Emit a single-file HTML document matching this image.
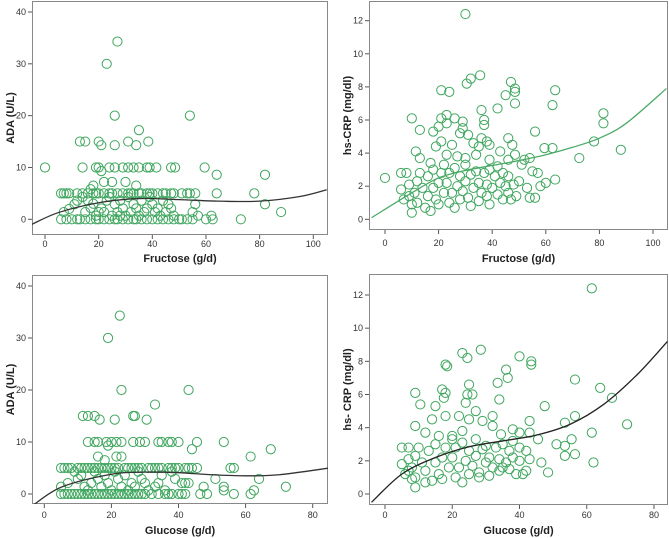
<!DOCTYPE html>
<html><head><meta charset="utf-8"><style>
html,body{margin:0;padding:0;background:#fff}
svg{display:block;font-family:"Liberation Sans",Arial,sans-serif}
</style></head><body>
<svg id="chart" width="669" height="538" viewBox="0 0 669 538"></svg>
<script>
// ---- Panel A: Fructose vs ADA ----
const aX=[27,23,26,54,35,13,15,20,31,38.5,21,26,34,0,14,19,20,24,26,29,31,33,35,38,39,41.5,47,48.5,59.5,21,64,82,78,64,82,88,73,30,22,25,18,34,17,
6,7,8,9,12,14,16,18,19,20,22,24,25,27,29,31,32,33,35,36,38,39,40,42,44,45,47,48,51,53,54,56,
6,8,10,12,13,15,17,19,20,22,24,26,27,29,31,33,34,36,38,40,42,44,46,48,50,51,53,55,60,62.5,
7,9,11,12,14,15,17,18,19,21,22,23,24,25,26,27,28,29,30,31,32,33,34,35,36,37,38,39,40,41,42,43,44,45,46,47,48,55,56,57,62,16,20,28];
const aY=[34.3,30,20,20,17.2,15,15,15,15,15,14.3,14.3,14.3,10,10,10,10,10,10,10,10,10,10,10,10,10,10,10,10,9.3,8.6,8.6,5,5,2.9,1.4,0,7.2,7.2,7.2,6.5,6.5,5.8,
5,5,5,5,5,5,5,5,5,5,5,5,5,5,5,5,5,5,5,5,5,5,5,5,5,5,5,5,5,5,5,5,
0,0,0,0,0,0,0,0,0,0,0,0,0,0,0,0,0,0,0,0,0,0,0,0,0,0,0,0,0,0,
1.4,2,2.9,3.6,4.3,1.4,2.2,3,0.7,2.1,1.4,3.6,4.3,0.7,2.9,1.4,3.6,2.1,0.7,4.3,1.4,2.9,2.1,0.7,3.6,1.4,2.1,4.3,2.9,1.4,2.1,0.7,3.6,1.4,2.9,2.1,0.7,1.4,2.9,0.7,0.7,3.6,1.4,0.7];
const aFitX=[-5,5,20,35,50,65,80,95,105];
const aFitY=[-1,1.3,3.2,4,3.8,3.5,3.5,4.4,5.7];
// ---- Panel B: Fructose vs hs-CRP ----
const bX=[30,21,24,30.5,32,35.5,47,45,48.5,48.5,63.5,36,42,48.5,62.5,81.5,81.5,10,21,23,26,29,37,37,20,23,56,78,72.5,88,59.5,62.5,63.5,60,58,0,13,18,29,31,28,36,46,11.5,19,21,25,33,35,38,39,47.5,43,13,17,23,27,30,34,39,46,48.5,52,54,
6,6,7,8,9,9,10,10,11,12,12,13,14,15,16,16,17,18,18,19,20,20,21,22,22,23,24,24,25,26,26,27,28,28,29,30,30,31,32,32,33,34,35,35,36,37,38,38,39,39,40,41,42,42,43,44,44,45,46,46,47,48,49,50,51,53,54,55,56,57];
const bY=[12.4,7.8,7.7,8.2,8.5,8.7,8.3,7.5,7.9,7.7,7.8,6.6,6.7,7,6.9,6.4,5.8,6.1,6.1,6.3,6.1,5.9,6,5.7,5.6,5.8,5.3,4.7,3.7,4.2,4.3,4.3,2.4,2.2,2,2.5,5.4,5.3,5.5,5.1,5.2,4.9,4.9,4.1,4.4,4.7,4.5,4.6,4.4,4.7,4.5,4.5,4.1,3.7,3.4,3.9,3.8,3.7,3.9,3.6,3.6,3.9,3.6,3.7,
2.8,1.8,1.2,2.8,2.1,1.4,0.9,0.4,1.6,2.3,1,2.8,1.9,0.7,1.4,2.6,0.5,1.9,3,1.2,2.2,0.9,2.8,1.6,3.3,2.2,1,2.8,1.6,0.7,3.1,2,1.2,2.6,1.7,2.3,3.3,1.3,0.8,2.7,1.9,2.9,1.1,2.2,1.6,2.8,1.4,2.1,0.9,3,1.9,2.6,1.5,3.2,2.2,1.2,2.8,2,1.6,2.6,1.2,2.1,1.4,2.3,3.3,1.9,1.3,2.9,1.3,2.8];
const bFitX=[-5,10,20,30,40,50,60,70,80,90,105];
const bFitY=[0.1,1.6,2.5,2.95,3.25,3.55,3.9,4.35,4.9,5.8,7.9];
// ---- Panel C: Glucose vs ADA ----
const cX=[22.5,19,23,43,33,11.5,13,15,26.5,27,16.5,21,30.5,13,15,16,18.5,20,21.5,23,26.5,28.5,30,34,35,37,38,40,45.5,53.5,19,44,67.5,61.5,21.5,23,16,18,55.5,56.5,64,51,72,53.5,47.5,62.5,61.5,56.5,46.5,48.5,53.5,
5,6,7,8,10,11,12,13,14,15,16,17,18,19,20,21,22,24,25,26,27,28,29,31,32,33,34,35,37,38,39,40,42,43,44,45.5,
5,6,7,8,9,10,11,12,13,14,15,16,17,18,19,20,21,22,23,24,25,26,27,28,29,30,32,34,36,37,38,40,41,42,
5,7,9,10,11,12,13,14,15,16,17,18,19,20,21,22,23,24,25,26,27,28,29,30,31,33,34,35,36,38,39,41,42,43];
const cY=[34.3,30,20,20,17.2,15,15,15,15,15,14.3,14.3,14.3,10,10,10,10,10,10,10,10,10,10,10,10,10,10,10,10,10,9.3,8.6,8.6,7.2,7.2,7.2,7.2,6.5,5,5,2.9,2.9,1.4,1.4,1.4,0.7,0,0,0,0,0.7,
5,5,5,5,5,5,5,5,5,5,5,5,5,5,5,5,5,5,5,5,5,5,5,5,5,5,5,5,5,5,5,5,5,5,5,5,
0,0,0,0,0,0,0,0,0,0,0,0,0,0,0,0,0,0,0,0,0,0,0,0,0,0,0,0,0,0,0,0,0,0,
1.4,2.1,4.3,2.9,3.6,1.4,0.7,2.1,4.3,2.9,1.4,3.6,2.1,0.7,4.3,2.9,1.4,3.6,0.7,2.1,1.4,4.3,2.9,2.1,0.7,1.4,2.1,3.6,0.7,4.3,2.9,2.1,2.1,2.1];
const cFitX=[-4,5,20,30,40,50,60,70,85];
const cFitY=[-2.5,1.3,3.8,4.2,4.1,3.7,3.5,3.7,5];
// ---- Panel D: Glucose vs hs-CRP ----
const dX=[61.5,18,18.5,23,24.5,28.5,40,43.5,43.5,36,36.5,33.5,56.5,64,67.5,9,17,17.5,18,25,26,24.5,34,47.5,10.5,15,24,27,9,14,18,22,25,32,29,43,56.5,53.5,72,61.5,55.5,51,53.5,53.5,56.5,62,46.5,48.5,40,43,45.5,38,34.5,32,12,16,20,23,
5,5,6,7,7,7,8,8,9,9,9,10,11,12,12,13,14,15,15,16,17,17,18,19,20,20,21,21,22,23,23,24,25,25,26,27,27,28,28,29,30,30,31,31,32,33,34,34,35,35,36,37,37,38,38,39,40,40,41,42,42,43];
const dY=[12.4,7.8,7.7,8.5,8.2,8.7,8.3,8,7.8,7.5,7,6.7,6.9,6.4,5.8,6.1,6.3,5.8,6.1,6.6,6,6,5.7,5.3,5.4,5.3,5.5,5,4.1,4.5,4.7,4.7,4.5,4.7,4.4,4.4,4.7,4.3,4.2,3.7,3.3,3,2.9,2.3,2.4,1.9,1.9,1.3,3.7,3.7,3.3,3.9,3.6,4.1,3.7,3.5,3.5,3.8,
2.8,1.8,1.2,2.8,2.1,1.4,0.9,1.6,0.4,2.3,1,2.8,1.9,0.7,1.4,2.6,0.8,1.9,3,1.2,2.2,0.9,2.8,1.6,3.3,2.2,1,2.8,1.6,0.7,3.1,2,1.2,2.6,1.7,2.3,3.3,1.3,1,2.7,1.9,2.9,1.1,2.2,1.6,2.8,1.4,2.1,1.6,3,1.9,2.6,1.5,3.2,2.2,1.2,2.8,2,1.2,2.6,1.4,2.1];
const dFitX=[-4,5,15,25,35,45,55,65,75,84];
const dFitY=[-0.5,1.2,2.2,2.85,3.2,3.55,4.2,5.4,7.2,9.2];

const xTicksA=[0,20,40,60,80,100], xTicksC=[0,20,40,60,80];
const yTicksADA=[0,10,20,30,40], yTicksCRP=[0,2,4,6,8,10,12];

const NS="http://www.w3.org/2000/svg";
const svg=document.getElementById('chart');
function mk(tag,attrs,parent){const e=document.createElementNS(NS,tag);for(const k in attrs)e.setAttribute(k,attrs[k]);(parent||svg).appendChild(e);return e;}

const panels=[
 {id:'fructose-ada',xs:aX,ys:aY,fx:aFitX,fy:aFitY,fitColor:'#333',box:[32,1,328,235],xa:[0,45,100,313.3],ya:[0,219.3,40,12],xt:xTicksA,yt:yTicksADA,xl:'Fructose (g/d)',yl:'ADA (U/L)',xtY:247,xlY:262},
 {id:'fructose-crp',xs:bX,ys:bY,fx:bFitX,fy:bFitY,fitColor:'#4aaa66',box:[369,1,668,230],xa:[0,385,100,653],ya:[0,219.3,12,20.7],xt:xTicksA,yt:yTicksCRP,xl:'Fructose (g/d)',yl:'hs-CRP (mg/dl)',xtY:246,xlY:262},
 {id:'glucose-ada',xs:cX,ys:cY,fx:cFitX,fy:cFitY,fitColor:'#333',box:[32,275,328,504],xa:[0,44.3,80,312.7],ya:[0,494,40,286],xt:xTicksC,yt:yTicksADA,xl:'Glucose (g/d)',yl:'ADA (U/L)',xtY:518,xlY:534},
 {id:'glucose-crp',xs:dX,ys:dY,fx:dFitX,fy:dFitY,fitColor:'#222',box:[369,274,668,505],xa:[0,385,80,654],ya:[0,494,12,295],xt:xTicksC,yt:yTicksCRP,xl:'Glucose (g/d)',yl:'hs- CRP (mg/dl)',xtY:518,xlY:534}
];

panels.forEach(p=>{
 const g=mk('g',{});
 
 
 const sx=v=>p.xa[1]+(v-p.xa[0])*(p.xa[3]-p.xa[1])/(p.xa[2]-p.xa[0]);
 const sy=v=>p.ya[1]+(v-p.ya[0])*(p.ya[3]-p.ya[1])/(p.ya[2]-p.ya[0]);
 const [l,t,r,b]=p.box;
 const clipId='clip-'+p.id;
 const cp=mk('clipPath',{id:clipId},g);mk('rect',{x:l,y:t,width:r-l,height:b-t},cp);
 const frame=mk('rect',{x:l+0.5,y:t+0.5,width:r-l-1,height:b-t-1,fill:'#fff',stroke:'#888','stroke-width':1},g);
 
 
 p.yt.forEach(v=>{
  const y=sy(v);
  mk('line',{x1:l-4,x2:l,y1:y,y2:y,stroke:'#555'},g);
  const tx=mk('text',{x:l-6,y:y+3,'text-anchor':'end','font-size':9,fill:'#333'},g);tx.textContent=v;
  
  
 });
 p.xt.forEach(v=>{
  const x=sx(v);
  mk('line',{x1:x,x2:x,y1:b,y2:b+4,stroke:'#555'},g);
  const tx=mk('text',{x:x,y:p.xtY,'text-anchor':'middle','font-size':9,fill:'#333'},g);tx.textContent=v;
  
  
 });
 const xt=mk('text',{x:(l+r)/2,y:p.xlY,'text-anchor':'middle','font-size':11,'font-weight':'bold',fill:'#222'},g);xt.textContent=p.xl;
 
 
 const cy=(t+b)/2-(p.id.indexOf('glucose')===0?5:0);
 const yt=mk('text',{x:0,y:0,'text-anchor':'middle','font-size':11,'font-weight':'bold',fill:'#222',transform:`translate(${l-18},${(t+b)/2}) rotate(-90)`},g);yt.textContent=p.yl;
 
 
 const pg=mk('g',{'clip-path':`url(#${clipId})`},g);
 p.xs.forEach((xv,i)=>{
  const c=mk('circle',{cx:sx(xv),cy:sy(p.ys[i]),r:4.6,fill:'none',stroke:'#3fa65e','stroke-width':1},pg);
  
  
 });
 // smooth fit line through sample points (Catmull-Rom)
 const pts=p.fx.map((xv,i)=>[sx(xv),sy(p.fy[i])]);
 let d=`M${pts[0][0]},${pts[0][1]}`;
 for(let i=0;i<pts.length-1;i++){
  const p0=pts[Math.max(0,i-1)],p1=pts[i],p2=pts[i+1],p3=pts[Math.min(pts.length-1,i+2)];
  d+=` C${p1[0]+(p2[0]-p0[0])/6},${p1[1]+(p2[1]-p0[1])/6} ${p2[0]-(p3[0]-p1[0])/6},${p2[1]-(p3[1]-p1[1])/6} ${p2[0]},${p2[1]}`;
 }
 const fit=mk('path',{d:d,fill:'none',stroke:p.fitColor,'stroke-width':1.3},pg);
 
 
});
</script>
</body></html>
